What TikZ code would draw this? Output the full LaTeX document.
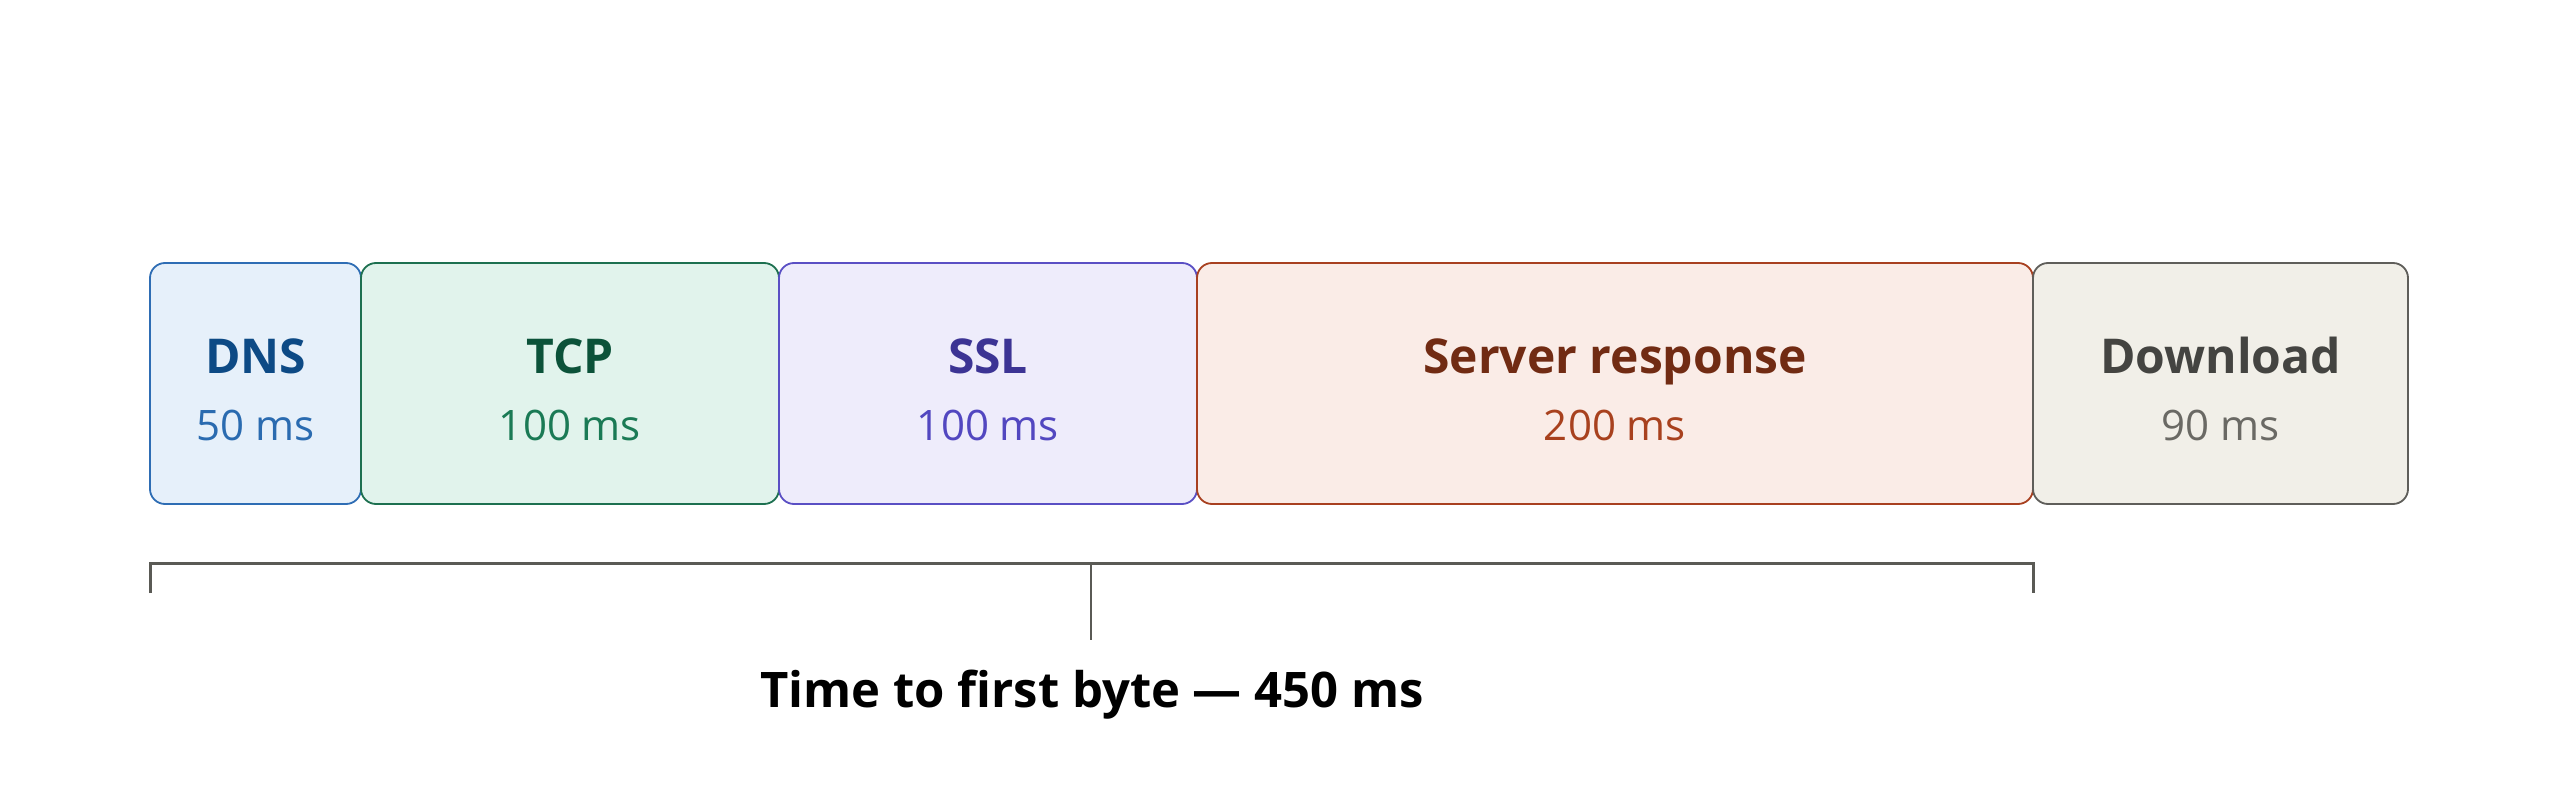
\documentclass[tikz,border=0pt]{standalone}
\usepackage{fontspec}
\setmainfont{Open Sans}
\begin{document}
\begin{tikzpicture}[x=1pt,y=-1pt,
  seg/.style={draw, line width=1.8pt, rounded corners=15pt, inner sep=0pt, minimum height=241pt},
  ttl/.style={font=\fontsize{48}{54}\selectfont\bfseries, anchor=base},
  sub/.style={font=\fontsize{42}{50}\selectfont, anchor=base},
  brk/.style={draw=brk, line width=3pt},
  tick/.style={draw=brk, line width=2.6pt}]
\definecolor{dnsF}{HTML}{E6F0FA}\definecolor{dnsD}{HTML}{2E6DB4}\definecolor{dnsT}{HTML}{0D4A85}\definecolor{dnsS}{HTML}{2A6BB0}
\definecolor{tcpF}{HTML}{E1F3EC}\definecolor{tcpD}{HTML}{1D7050}\definecolor{tcpT}{HTML}{0B5239}\definecolor{tcpS}{HTML}{1A7A55}
\definecolor{sslF}{HTML}{EEECFB}\definecolor{sslD}{HTML}{5A4FC4}\definecolor{sslT}{HTML}{3C3494}\definecolor{sslS}{HTML}{5247C0}
\definecolor{srvF}{HTML}{FAECE7}\definecolor{srvD}{HTML}{A84020}\definecolor{srvT}{HTML}{712B13}\definecolor{srvS}{HTML}{A8411E}
\definecolor{dlF}{HTML}{F1EFE8}\definecolor{dlD}{HTML}{5F5E5A}\definecolor{dlT}{HTML}{444441}\definecolor{dlS}{HTML}{6A6964}
\definecolor{brk}{HTML}{5A5A55}
\useasboundingbox[fill=white] (0,0) rectangle (2560,791);
% boxes
\node[seg, fill=dnsF, draw=dnsD, minimum width=211pt] (dns) at (255.5,383.5) {};
\node[seg, fill=tcpF, draw=tcpD, minimum width=418pt] (tcp) at (570,383.5) {};
\node[seg, fill=sslF, draw=sslD, minimum width=418pt] (ssl) at (988,383.5) {};
\node[seg, fill=srvF, draw=srvD, minimum width=836pt] (srv) at (1615,383.5) {};
\node[seg, fill=dlF, draw=dlD, minimum width=375pt] (dl) at (2220.5,383.5) {};
% labels
\node[ttl, text=dnsT] (dnsT) at (255.5,374) {DNS};
\node[sub, text=dnsS] (dnsS) at (255.5,441) {50 ms};
\node[ttl, text=tcpT] (tcpT) at (570,374) {TCP};
\node[sub, text=tcpS] (tcpS) at (570,441) {100 ms};
\node[ttl, text=sslT] (sslT) at (988,374) {SSL};
\node[sub, text=sslS] (sslS) at (988,441) {100 ms};
\node[ttl, text=srvT] (srvT) at (1615,374) {Server response};
\node[sub, text=srvS] (srvS) at (1615,441) {200 ms};
\node[ttl, text=dlT] (dlT) at (2220.5,374) {Download};
\node[sub, text=dlS] (dlS) at (2220.5,441) {90 ms};
% bracket
\coordinate (bl) at (150,593);
\coordinate (tl) at (150,563);
\coordinate (tr) at (2033,563);
\coordinate (br) at (2033,593);
\coordinate (tm) at (1091,563);
\coordinate (bm) at (1091,640);
\draw[brk, line join=miter] (bl) -- (tl) -- (tr) -- (br);
\draw[tick] (tm) -- (bm);
\node[font=\fontsize{49}{58}\selectfont\bfseries, anchor=base, text=black] (ttfb) at (1092,707) {Time to first byte — 450 ms};
\end{tikzpicture}
\end{document}
